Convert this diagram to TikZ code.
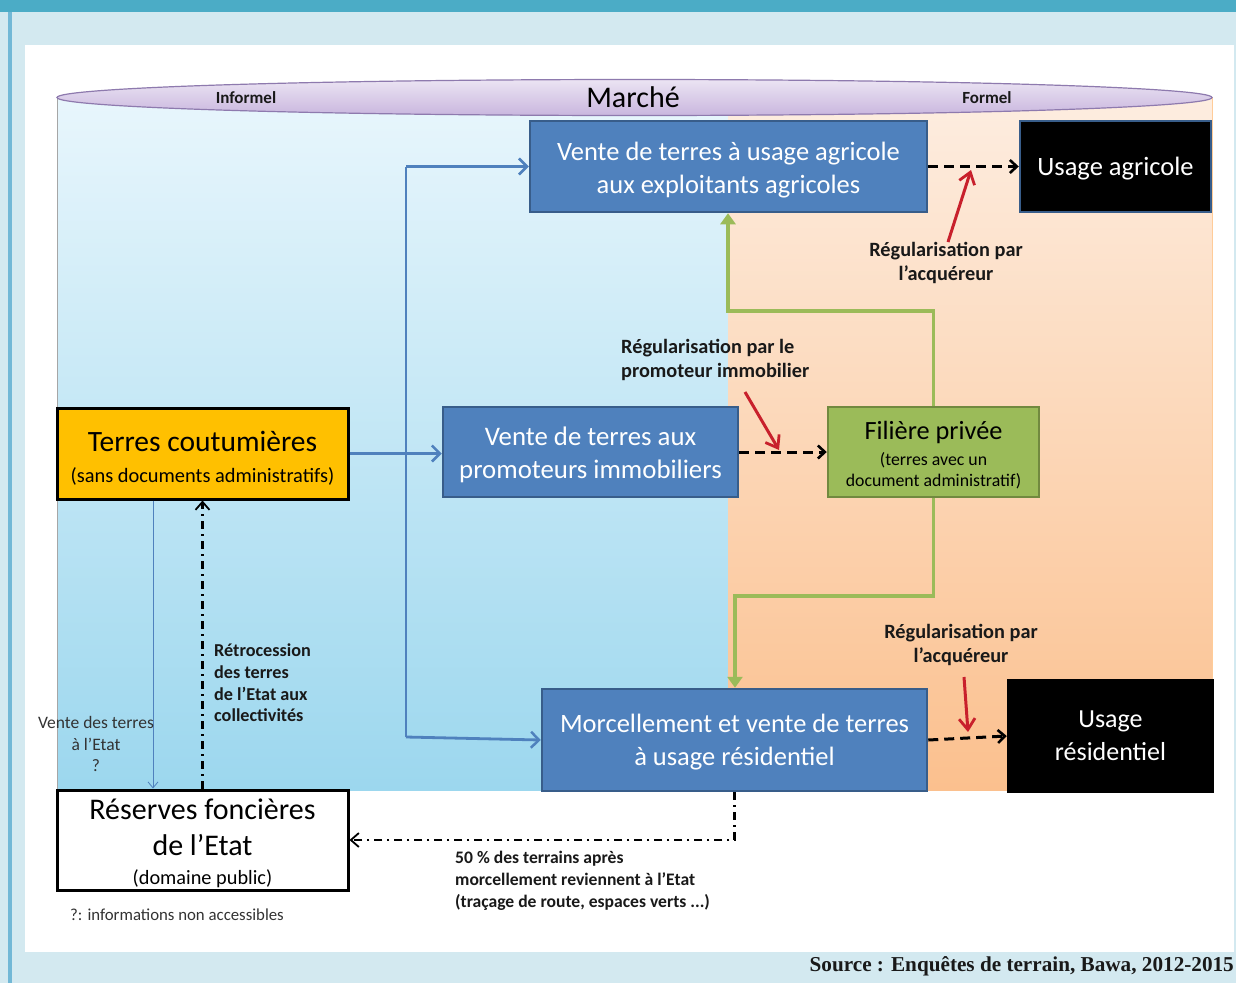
\documentclass[tikz,border=0pt]{standalone}
\usepackage{fontspec}
\setmainfont{Carlito}
\newfontfamily\srcfont{Liberation Serif}
\usetikzlibrary{arrows.meta,calc}
\newcommand{\padtop}[1]{\rule{0pt}{#1}}
\definecolor{bgcol}{HTML}{D3E9F0}
\definecolor{topbar}{HTML}{4BACC6}
\definecolor{leftline}{HTML}{72B8D6}
\definecolor{boxblue}{HTML}{4F81BD}
\definecolor{boxblueb}{HTML}{385D8A}
\definecolor{gold}{HTML}{FFC000}
\definecolor{leaf}{HTML}{9BBB59}
\definecolor{leafb}{HTML}{71893F}
\definecolor{redarr}{HTML}{C8202C}
\definecolor{lensb}{HTML}{8E7AAE}
\definecolor{lenstop}{HTML}{ECE4F3}
\definecolor{lensbot}{HTML}{C8B6DE}
\definecolor{skytop}{HTML}{E8F6FC}
\definecolor{skybot}{HTML}{9CD7EE}
\definecolor{peachtop}{HTML}{FDEDE0}
\definecolor{peachbot}{HTML}{FBC08E}
\tikzset{
  bluebox/.style={draw=boxblueb,line width=2.5pt,fill=boxblue,text=white,align=center,inner sep=0pt},
  blackbox/.style={draw=#1,line width=2.5pt,fill=black,text=white,align=center,inner sep=0pt},
  goldbox/.style={draw=black,line width=3pt,fill=gold,text=black,align=center,inner sep=0pt},
  leafbox/.style={draw=leafb,line width=2.5pt,fill=leaf,text=black,align=center,inner sep=0pt},
  whitebox/.style={draw=black,line width=3pt,fill=white,text=black,align=center,inner sep=0pt},
  bluearr/.style={draw=boxblue,line width=2.8pt,-{Straight Barb[length=8pt,width=16pt,line width=2.5pt]}},
  blueline/.style={draw=boxblue,line width=2.8pt},
  greenarr/.style={draw=leaf,line width=3.5pt,-{Triangle[length=11pt,width=15pt]}},
  dasharr/.style={draw=black,line width=3pt,dash pattern=on 10pt off 6pt,-{Straight Barb[length=7pt,width=13pt,line width=2.6pt]}},
  redarrow/.style={draw=redarr,line width=3pt,-{Straight Barb[length=11pt,width=16pt,line width=2.8pt]}},
  dotdash/.style={draw=black,line width=2.2pt,dash pattern=on 8pt off 5pt on 2pt off 5pt,-{Straight Barb[length=8pt,width=14pt,line width=1.8pt]}},
  thinblue/.style={draw=boxblue,line width=0.8pt,-{Straight Barb[length=6pt,width=10pt,line width=0.8pt]}},
  lbl/.style={inner sep=0pt,text=black!90}
}
\begin{document}
\begin{tikzpicture}[x=1pt,y=-1pt]
\useasboundingbox (0,0) rectangle (1236,983);
% page background
\fill[bgcol] (0,0) rectangle (1236,983);
\fill[topbar] (0,0) rectangle (1236,12);
\fill[leftline] (8,12) rectangle (12,983);
\fill[white] (25,45) rectangle (1234,952);
% cylinder body
\shade[top color=skytop,bottom color=skybot] (57,97) rectangle (728,790);
\shade[top color=peachtop,bottom color=peachbot] (728,97) rectangle (1212,790);
\draw[black!35,line width=0.6pt] (57,97) -- (57,790);
\draw[orange!40,line width=0.6pt] (1212,97) -- (1212,790);
% lens
\shade[top color=lenstop,bottom color=lensbot,draw=lensb,line width=1.2pt] (634.5,97.5) ellipse [x radius=577.5pt, y radius=18pt];
\node[inner sep=0pt,font=\fontsize{30}{34}\selectfont] (marche) at (633,97) {Marché};
\node[lbl,font=\fontsize{17}{20}\selectfont\bfseries] (inf) at (246,98) {Informel};
\node[lbl,font=\fontsize{17}{20}\selectfont\bfseries] (form) at (987,98) {Formel};
% boxes
\node[bluebox,minimum width=397pt,minimum height=91pt,font=\fontsize{26.5}{33}\selectfont] (va) at (728.5,166.5) {\padtop{25pt}Vente de terres à usage agricole\\aux exploitants agricoles};
\node[blackbox=boxblueb,minimum width=191pt,minimum height=91pt,font=\fontsize{26.5}{30}\selectfont] (ua) at (1115.5,166.5) {\padtop{23pt}Usage agricole};
\node[goldbox,minimum width=291pt,minimum height=91pt,font=\fontsize{20.4}{31}\selectfont] (tc) at (202.5,453.5) {{\fontsize{29.5}{31}\selectfont\padtop{29pt}Terres coutumières}\\(sans documents administratifs)};
\node[bluebox,minimum width=295pt,minimum height=90pt,font=\fontsize{26.8}{33}\selectfont] (vp) at (590.5,452) {\padtop{25pt}Vente de terres aux\\promoteurs immobiliers};
\node[leafbox,minimum width=211pt,minimum height=90pt,font=\fontsize{17.8}{21}\selectfont] (fp) at (933.5,452) {{\fontsize{26.3}{27}\selectfont\padtop{24.5pt}Filière privée}\\[5pt](terres avec un\\document administratif)};
\node[bluebox,minimum width=385pt,minimum height=102pt,font=\fontsize{26.5}{33}\selectfont] (mv) at (734.5,740) {\padtop{23pt}Morcellement et vente de terres\\à usage résidentiel};
\node[blackbox=black,minimum width=205pt,minimum height=112pt,font=\fontsize{26}{33}\selectfont] (ur) at (1110.5,736) {Usage\\résidentiel};
\node[whitebox,minimum width=291pt,minimum height=100pt,font=\fontsize{20.3}{36}\selectfont] (rf) at (202.5,840) {{\fontsize{30}{36}\selectfont\padtop{28pt}Réserves foncières}\\{\fontsize{30}{36}\selectfont de l’Etat}\\[-7pt](domaine public)};
% blue connectors
\coordinate (bt) at (406,166.5);
\coordinate (bb) at (406,737);
\draw[blueline] (bt) -- (bb);
\draw[bluearr] (bt) -- (va.west);
\draw[bluearr] (bb) -- (mv.west);
\draw[bluearr] (tc.east) -- (tc.east -| vp.west);
% green connectors
\coordinate (g1) at (728,311);
\coordinate (g2) at (735,596);
\draw[greenarr] (fp.north) |- (g1) -- (g1 |- va.south);
\draw[greenarr] (fp.south) |- (g2) -- (g2 |- mv.north);
% dashed black arrows
\draw[dasharr] (va.east) -- (ua.west);
\draw[dasharr] (vp.east) -- (fp.west);
\draw[dasharr] (mv.east) -- (ur.west);
% red arrows
\coordinate (r1) at (948,242);
\coordinate (r1h) at (971,170);
\coordinate (r2) at (745,392);
\coordinate (r2h) at (779,450);
\coordinate (r3) at (964,677);
\coordinate (r3h) at (968,732);
\draw[redarrow] (r1) -- (r1h);
\draw[redarrow] (r2) -- (r2h);
\draw[redarrow] (r3) -- (r3h);
% state links
\draw[thinblue] ([xshift=-49.5pt]tc.south) -- ([xshift=-49.5pt]rf.north);
\draw[dotdash] (rf.north) -- (tc.south);
\draw[dotdash] (mv.south) |- (rf.east);
% labels
\node[lbl,align=center,font=\fontsize{20.3}{24}\selectfont\bfseries] (l1) at (946,263) {Régularisation par\\l’acquéreur};
\node[lbl,align=left,anchor=west,font=\fontsize{20.3}{24}\selectfont\bfseries] (l2) at (621,360) {Régularisation par le\\promoteur immobilier};
\node[lbl,align=center,font=\fontsize{20.3}{24}\selectfont\bfseries] (l3) at (961,645) {Régularisation par\\l’acquéreur};
\node[lbl,align=left,anchor=west,font=\fontsize{18.2}{21.7}\selectfont\bfseries] (l4) at (214,683) {Rétrocession\\des terres\\de l’Etat aux\\collectivités};
\node[lbl,align=center,font=\fontsize{17.5}{21.5}\selectfont,text=black!80] (l5) at (96,744) {Vente des terres\\à l’Etat\\?};
\node[lbl,align=left,anchor=west,font=\fontsize{17.6}{22}\selectfont\bfseries] (l6) at (455,881) {50 \% des terrains après\\morcellement reviennent à l’Etat\\(traçage de route, espaces verts ...)};
\node[lbl,anchor=west,font=\fontsize{16.8}{18}\selectfont,text=black!80] (l7) at (70,915) {?: informations non accessibles};
\node[lbl,anchor=east,font=\srcfont\fontsize{21.2}{24}\selectfont\bfseries] (src) at (1234,966) {Source : Enquêtes de terrain, Bawa, 2012-2015};
\end{tikzpicture}
\end{document}
